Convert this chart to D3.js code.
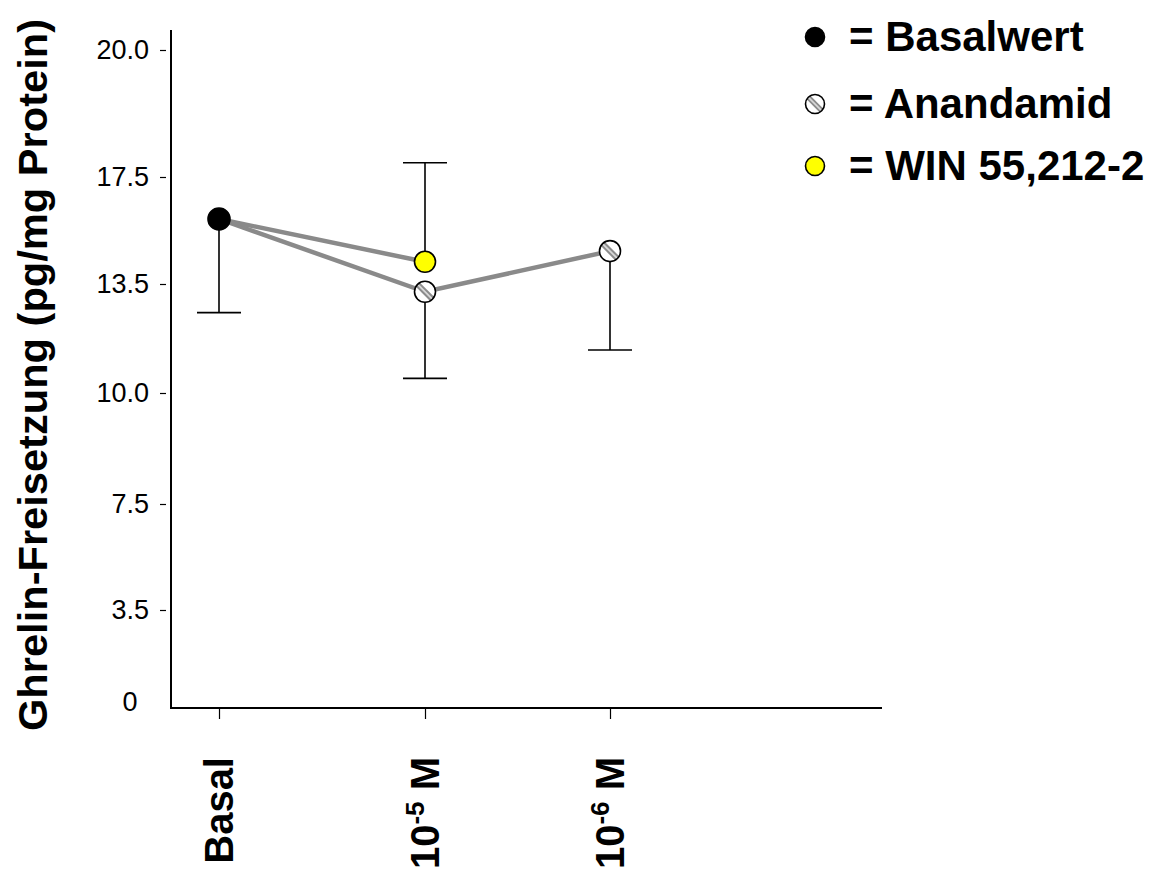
<!DOCTYPE html>
<html>
<head>
<meta charset="utf-8">
<script src="https://cdn.jsdelivr.net/npm/d3@7"></script>
<style>
  body { margin: 0; background: #fff; }
  svg { display: block; }
</style>
</head>
<body>
<script>
// ---- data ----
const categories = ["Basal", "10-5 M", "10-6 M"];
const categoryBase = ["Basal", "10", "10"];
const categorySup = ["", "-5", "-6"];
const categoryUnit = ["", " M", " M"];

const yTickValues = [0, 3.5, 7.5, 10.0, 13.5, 17.5, 20.0];
const yTickLabels = ["0", "3.5", "7.5", "10.0", "13.5", "17.5", "20.0"];

// Basalwert (mean, lower error end)
const basalCats = ["Basal"];
const basalMean = [15.93];
const basalLow = [12.58];

// Anandamid (mean, lower error end)
const anandamidCats = ["10-5 M", "10-6 M"];
const anandamidMean = [13.25, 14.73];
const anandamidLow = [10.47, 11.38];

// WIN 55,212-2 (mean, upper error end)
const winCats = ["10-5 M"];
const winMean = [14.33];
const winHigh = [17.78];

const legendLabels = ["= Basalwert", "= Anandamid", "= WIN 55,212-2"];

// ---- layout ----
const W = 1156, H = 873;
const axisX = 171, axisTop = 30, axisY = 708, axisRight = 882;
const yTickY = [708, 610, 504, 393, 284, 177, 50];
const xCatX = [219, 425, 610];
const markerR = 10.5;
const capHalf = 22;
const lineGray = "#8a8a8a";
const font = "'Liberation Sans', Arial, sans-serif";

const svg = d3.select("body").append("svg")
  .attr("width", W).attr("height", H)
  .style("font-family", font);

// piecewise-linear value axis through the labelled ticks
const y = d3.scaleLinear().domain(yTickValues).range(yTickY);
const x = d3.scaleOrdinal().domain(categories).range(xCatX);

// ---- axes ----
svg.append("line")
  .attr("x1", axisX).attr("x2", axisX)
  .attr("y1", axisTop).attr("y2", axisY + 1)
  .attr("stroke", "#000").attr("stroke-width", 2);
svg.append("line")
  .attr("x1", axisX - 1).attr("x2", axisRight)
  .attr("y1", axisY).attr("y2", axisY)
  .attr("stroke", "#000").attr("stroke-width", 2);

const yAxis = d3.axisLeft(y)
  .tickValues(yTickValues)
  .tickFormat((d, i) => yTickLabels[i])
  .tickSize(6)
  .tickPadding(11);
const gy = svg.append("g").attr("transform", `translate(${axisX - 5},0)`).call(yAxis);
gy.select(".domain").remove();
gy.selectAll(".tick line").attr("stroke", "#000").attr("stroke-width", 1.2)
  .filter(d => d === 0).remove();
gy.selectAll(".tick text")
  .attr("fill", "#000")
  .style("font-size", "27px")
  .style("font-family", font);
gy.selectAll(".tick").filter(d => d === 0).select("text")
  .attr("x", -36).attr("dy", "0.1em").attr("text-anchor", "middle");

const xAxis = d3.axisBottom(x).tickSize(11).tickFormat("");
const gx = svg.append("g").attr("transform", `translate(0,${axisY})`).call(xAxis);
gx.select(".domain").remove();
gx.selectAll(".tick line").attr("stroke", "#000").attr("stroke-width", 1.2);

// rotated category labels
categories.forEach((c, i) => {
  const t = svg.append("text")
    .attr("transform", `translate(${x(c) + 14},757) rotate(-90)`)
    .attr("text-anchor", "end")
    .style("font-size", "40px")
    .style("font-weight", "bold")
    .attr("fill", "#000");
  t.append("tspan").text(categoryBase[i]);
  if (categorySup[i]) {
    t.append("tspan").attr("dy", -15).style("font-size", "26px").text(categorySup[i]);
    t.append("tspan").attr("dy", 15).text(categoryUnit[i]);
  }
});

// y axis title
svg.append("text")
  .attr("transform", "translate(47,375) rotate(-90)")
  .attr("text-anchor", "middle")
  .attr("textLength", 712)
  .attr("lengthAdjust", "spacingAndGlyphs")
  .style("font-size", "41px")
  .style("font-weight", "bold")
  .attr("fill", "#000")
  .text("Ghrelin-Freisetzung (pg/mg Protein)");

// ---- connecting lines ----
const line = d3.line().x(d => x(d.c)).y(d => y(d.v));
const basalPt = { c: basalCats[0], v: basalMean[0] };
svg.append("path")
  .datum([basalPt].concat(anandamidCats.map((c, i) => ({ c, v: anandamidMean[i] }))))
  .attr("d", line).attr("fill", "none")
  .attr("stroke", lineGray).attr("stroke-width", 4.5);
svg.append("path")
  .datum([basalPt].concat(winCats.map((c, i) => ({ c, v: winMean[i] }))))
  .attr("d", line).attr("fill", "none")
  .attr("stroke", lineGray).attr("stroke-width", 4.5);

// ---- error bars ----
function errorBar(c, from, to) {
  const g = svg.append("g").attr("stroke", "#000").attr("stroke-width", 1.6);
  g.append("line").attr("x1", x(c)).attr("x2", x(c)).attr("y1", y(from)).attr("y2", y(to));
  g.append("line").attr("x1", x(c) - capHalf).attr("x2", x(c) + capHalf)
    .attr("y1", y(to)).attr("y2", y(to));
}
basalCats.forEach((c, i) => errorBar(c, basalMean[i], basalLow[i]));
anandamidCats.forEach((c, i) => errorBar(c, anandamidMean[i], anandamidLow[i]));
winCats.forEach((c, i) => errorBar(c, winMean[i], winHigh[i]));

// ---- markers ----
function filledMarker(g, cx, cy, r, fill) {
  g.append("circle").attr("cx", cx).attr("cy", cy).attr("r", r)
    .attr("fill", fill).attr("stroke", "#000").attr("stroke-width", 1.6);
}
function hatchedMarker(g, cx, cy, r) {
  g.append("circle").attr("cx", cx).attr("cy", cy).attr("r", r).attr("fill", "#fff");
  const k = r * 0.72;
  g.append("line").attr("x1", cx - k).attr("y1", cy - k).attr("x2", cx + k).attr("y2", cy + k)
    .attr("stroke", "#8c8c8c").attr("stroke-width", r * 0.55);
  g.append("line").attr("x1", cx - k).attr("y1", cy - k).attr("x2", cx + k).attr("y2", cy + k)
    .attr("stroke", "#d8d8d8").attr("stroke-width", r * 0.17);
  g.append("circle").attr("cx", cx).attr("cy", cy).attr("r", r)
    .attr("fill", "none").attr("stroke", "#000").attr("stroke-width", 1.6);
}
const gm = svg.append("g");
basalCats.forEach((c, i) => filledMarker(gm, x(c), y(basalMean[i]), markerR + 0.5, "#000"));
anandamidCats.forEach((c, i) => hatchedMarker(gm, x(c), y(anandamidMean[i]), markerR));
winCats.forEach((c, i) => filledMarker(gm, x(c), y(winMean[i]), markerR, "#ffff00"));

// ---- legend ----
const legendX = 815, legendRowY = [37, 104, 166], legendTextX = 849;
const gl = svg.append("g");
filledMarker(gl, legendX, legendRowY[0], 9.5, "#000");
hatchedMarker(gl, legendX, legendRowY[1], 9.5);
filledMarker(gl, legendX, legendRowY[2], 9.5, "#ffff00");
legendLabels.forEach((t, i) => {
  gl.append("text")
    .attr("x", legendTextX).attr("y", legendRowY[i] + 14)
    .style("font-size", "42px").style("font-weight", "bold")
    .attr("fill", "#000").text(t);
});
</script>
</body>
</html>
